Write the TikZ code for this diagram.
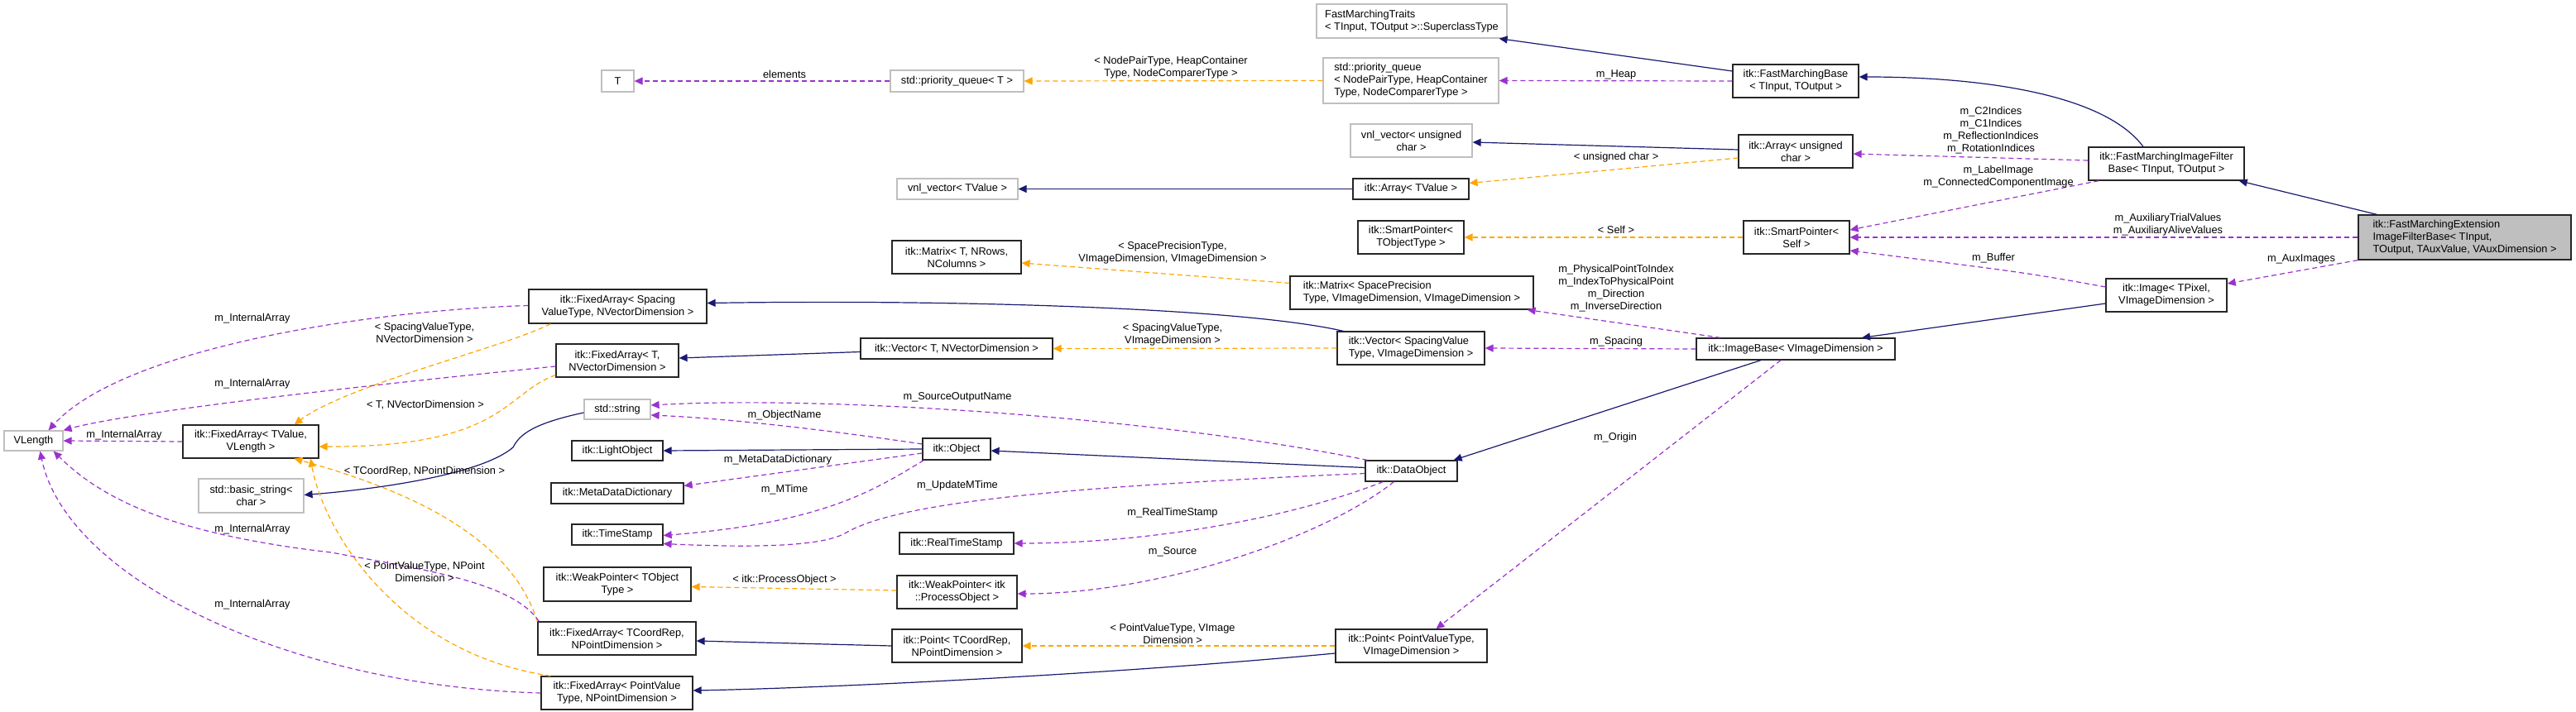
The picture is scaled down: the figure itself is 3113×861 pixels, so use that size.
\documentclass[tikz,border=0pt]{standalone}
\usepackage{fontspec}
\setmainfont{Liberation Sans}
\usetikzlibrary{arrows.meta,calc}
\definecolor{navy}{HTML}{191970}
\definecolor{orng}{HTML}{FFA500}
\definecolor{purp}{HTML}{9A32CD}
\definecolor{gbord}{HTML}{BFBFBF}
\newcommand\bx[7]{\node[#1, minimum width={(#5-#3)*0.5pt}, minimum height={(#6-#4)*0.5pt}] (#2) at ({(#3+#5)/2},{(#4+#6)/2}) {#7};}
\newcommand\lb[3]{\node[lbl] at (#1,#2) {#3};}
\begin{document}
\begin{tikzpicture}[x=0.5pt,y=-0.5pt,
  every node/.style={font=\fontsize{6.4}{7.5}\selectfont},
  box/.style={draw=black!85, line width=0.6pt, fill=white, inner sep=1pt, align=center},
  boxl/.style={box, align=left},
  gbox/.style={box, draw=gbord},
  gboxl/.style={gbox, align=left},
  extbox/.style={box, fill=black!25, align=left},
  lbl/.style={align=center, inner sep=0pt},
  inh/.style={draw=navy, line width=0.6pt, -{Triangle[length=5pt,width=4.5pt]}},
  tpl/.style={draw=orng, line width=0.6pt, dash pattern=on 3pt off 2pt, -{Triangle[length=5pt,width=4.5pt]}},
  use/.style={draw=purp, line width=0.6pt, dash pattern=on 3pt off 2pt, -{Triangle[length=5pt,width=4.5pt]}}]
\useasboundingbox (0,0) rectangle (3113,861);
% nodes
\bx{gboxl}{traits}{1591}{5}{1821}{46}{FastMarchingTraits\\< TInput, TOutput >::SuperclassType}
\bx{gboxl}{pqN}{1599}{70}{1811}{125}{std::priority\_queue\\< NodePairType, HeapContainer\\Type, NodeComparerType >}
\bx{box}{base}{2094}{78}{2246}{118}{itk::FastMarchingBase\\< TInput, TOutput >}
\bx{gbox}{vnlU}{1632}{150}{1779}{190}{vnl\_vector< unsigned\\char >}
\bx{box}{arrU}{2101}{163}{2239}{203}{itk::Array< unsigned\\char >}
\bx{box}{filt}{2524}{178}{2712}{218}{itk::FastMarchingImageFilter\\Base< TInput, TOutput >}
\bx{box}{arrT}{1635}{216}{1775}{241}{itk::Array< TValue >}
\bx{box}{spT}{1641}{267}{1769}{307}{itk::SmartPointer<\\TObjectType >}
\bx{box}{spS}{2107}{267}{2235}{307}{itk::SmartPointer<\\Self >}
\bx{extbox}{ext}{2850}{260}{3107}{314}{itk::FastMarchingExtension\\ImageFilterBase< TInput,\\ TOutput, TAuxValue, VAuxDimension >}
\bx{box}{img}{2545}{337}{2691}{377}{itk::Image< TPixel,\\VImageDimension >}
\bx{box}{imgBase}{2050}{409}{2290}{435}{itk::ImageBase< VImageDimension >}
\bx{boxl}{matS}{1559}{334}{1853}{374}{itk::Matrix< SpacePrecision\\Type, VImageDimension, VImageDimension >}
\bx{boxl}{vecS}{1616}{401}{1794}{441}{itk::Vector< SpacingValue\\Type, VImageDimension >}
\bx{box}{matT}{1078}{291}{1234}{331}{itk::Matrix< T, NRows,\\NColumns >}
\bx{box}{vecT}{1040}{409}{1272}{434}{itk::Vector< T, NVectorDimension >}
\bx{box}{obj}{1115}{530}{1197}{556}{itk::Object}
\bx{box}{dataObj}{1650}{557}{1761}{582}{itk::DataObject}
\bx{box}{rts}{1087}{644}{1225}{670}{itk::RealTimeStamp}
\bx{box}{wpP}{1084}{696}{1229}{736}{itk::WeakPointer< itk\\::ProcessObject >}
\bx{box}{ptC}{1078}{761}{1235}{801}{itk::Point< TCoordRep,\\NPointDimension >}
\bx{box}{ptP}{1614}{761}{1797}{801}{itk::Point< PointValueType,\\VImageDimension >}
\bx{gbox}{T}{727}{85}{766}{111}{T}
\bx{gbox}{pqT}{1076}{85}{1237}{111}{std::priority\_queue< T >}
\bx{gbox}{vnlT}{1084}{216}{1230}{241}{vnl\_vector< TValue >}
\bx{gbox}{vlen}{5}{521}{76}{545}{VLength}
\bx{box}{faV}{221}{514}{385}{554}{itk::FixedArray< TValue,\\VLength >}
\bx{gbox}{bstr}{240}{579}{367}{620}{std::basic\_string<\\char >}
\bx{box}{faS}{639}{350}{854}{391}{itk::FixedArray< Spacing\\ValueType, NVectorDimension >}
\bx{box}{faT}{672}{416}{820}{456}{itk::FixedArray< T,\\NVectorDimension >}
\bx{gbox}{str}{706}{483}{786}{507}{std::string}
\bx{box}{light}{691}{533}{801}{557}{itk::LightObject}
\bx{box}{meta}{666}{584}{826}{609}{itk::MetaDataDictionary}
\bx{box}{time}{691}{634}{801}{659}{itk::TimeStamp}
\bx{box}{wpT}{657}{686}{835}{727}{itk::WeakPointer< TObject\\Type >}
\bx{box}{faC}{650}{752}{841}{792}{itk::FixedArray< TCoordRep,\\NPointDimension >}
\bx{box}{faP}{654}{818}{837}{858}{itk::FixedArray< PointValue\\Type, NPointDimension >}
% inheritance
\draw[inh] ($(ext.north west)+(23,0)$) -- ($(filt.south east)+(-7,0)$);
\draw[inh] ($(filt.north)+(-28,0)$) .. controls (2540,110) and (2380,93) .. ($(base.east)+(0,-5)$);
\draw[inh] ($(base.west)+(0,-12)$) -- ($(traits.south east)+(-10,0)$);
\draw[inh] ($(arrU.west)+(0,-2)$) -- ($(vnlU.east)+(0,2)$);
\draw[inh] (arrT.west) -- (vnlT.east);
\draw[inh] ($(img.west)+(0,10)$) -- ($(imgBase.north)+(80,0)$);
\draw[inh] ($(imgBase.south)+(-42,0)$) -- ($(dataObj.north east)+(-5,0)$);
\draw[inh] ($(dataObj.west)+(0,-4)$) -- ($(obj.east)+(0,2)$);
\draw[inh] (obj.west) -- (light.east);
\draw[inh] ($(vecS.north west)+(8,0)$) .. controls (1500,372) and (1150,362) .. ($(faS.east)+(0,-4)$);
\draw[inh] ($(vecT.west)+(0,4)$) -- ($(faT.east)+(0,-3)$);
\draw[inh] (ptC.west) -- ($(faC.east)+(0,3)$);
\draw[inh] ($(ptP.west)+(0,9)$) .. controls (1350,815) and (1000,832) .. ($(faP.east)+(0,-3)$);
\draw[inh] ($(str.west)+(0,4)$) .. controls (645,512) and (628,525) .. (620,541) .. controls (580,575) and (450,592) .. ($(bstr.east)+(0,-1)$);
% templates
\draw[tpl] (pqN.west) -- (pqT.east);
\draw[tpl] ($(arrU.west)+(0,8)$) -- ($(arrT.east)+(0,-7)$);
\draw[tpl] (spS.west) -- (spT.east);
\draw[tpl] ($(matS.north west)+(0,9)$) -- ($(matT.east)+(0,7)$);
\draw[tpl] (vecS.west) -- (vecT.east);
\draw[tpl] (ptP.west) -- (ptC.east);
\draw[tpl] ($(wpP.west)+(0,-2)$) -- ($(wpT.east)+(0,3)$);
\draw[tpl] ($(faS.south west)+(27,0)$) .. controls (610,420) and (420,465) .. ($(faV.north east)+(-30,0)$);
\draw[tpl] ($(faT.south west)+(0,-3)$) .. controls (610,475) and (610,541) .. ($(faV.east)+(0,6)$);
\draw[tpl] (faC.north west) .. controls (620,660) and (520,600) .. ($(faV.south west)+(135,0)$);
\draw[tpl] ($(faP.north west)+(12,0)$) .. controls (480,790) and (390,640) .. ($(faV.south west)+(155,0)$);
% usage
\draw[use] (pqT.west) -- (T.east);
\draw[use] (base.west) -- (pqN.east);
\draw[use] ($(filt.west)+(0,-4)$) -- ($(arrU.east)+(0,3)$);
\draw[use] ($(filt.south west)+(13,0)$) -- ($(spS.east)+(0,-9)$);
\draw[use] (ext.west) -- (spS.east);
\draw[use] ($(img.west)+(0,-10)$) .. controls (2450,330) .. ($(spS.east)+(0,16)$);
\draw[use] (ext.south west) -- ($(img.east)+(0,-14)$);
\draw[use] ($(imgBase.north west)+(30,0)$) -- ($(matS.south east)+(-8,0)$);
\draw[use] (imgBase.west) -- (vecS.east);
\draw[use] ($(imgBase.south)+(-18,0)$) -- ($(ptP.north)+(30,0)$);
\draw[use] ($(dataObj.north west)+(3,0)$) .. controls (1400,505) and (1000,478) .. ($(str.east)+(0,-5)$);
\draw[use] ($(obj.west)+(0,-6)$) .. controls (1000,520) and (880,506) .. ($(str.east)+(0,7)$);
\draw[use] ($(obj.west)+(0,5)$) -- ($(meta.east)+(0,-9)$);
\draw[use] ($(obj.south west)+(2,0)$) .. controls (1060,590) and (1000,632) .. ($(time.east)+(0,1)$);
\draw[use] ($(dataObj.west)+(0,3)$) .. controls (1250,590) and (1080,610) .. (1021,645) .. controls (990,662) and (900,662) .. ($(time.east)+(0,11)$);
\draw[use] ($(dataObj.south west)+(22,0)$) .. controls (1550,630) and (1380,657) .. (rts.east);
\draw[use] ($(dataObj.south west)+(35,0)$) .. controls (1600,650) and (1400,718) .. ($(wpP.east)+(0,2)$);
\draw[use] ($(faS.west)+(0,-1)$) .. controls (450,375) and (150,420) .. ($(vlen.north)+(18,0)$);
\draw[use] ($(faT.west)+(0,7)$) .. controls (400,470) and (150,500) .. (vlen.north east);
\draw[use] (faV.west) -- (vlen.east);
\draw[use] ($(faC.north west)+(2,0)$) .. controls (620,705) and (520,690) .. (400,668) .. controls (200,645) and (120,600) .. ($(vlen.south east)+(-12,0)$);
\draw[use] (faP.west) .. controls (350,830) and (80,700) .. ($(vlen.south)+(8,0)$);
% labels
\lb{948}{90}{elements}
\lb{1415}{82}{< NodePairType, HeapContainer\\Type, NodeComparerType >}
\lb{1953}{90}{m\_Heap}
\lb{2406}{158}{m\_C2Indices\\m\_C1Indices\\m\_ReflectionIndices\\m\_RotationIndices}
\lb{1953}{190}{< unsigned char >}
\lb{2415}{214}{m\_LabelImage\\m\_ConnectedComponentImage}
\lb{1953}{278}{< Self >}
\lb{2620}{272}{m\_AuxiliaryTrialValues\\m\_AuxiliaryAliveValues}
\lb{2409}{312}{m\_Buffer}
\lb{2781}{313}{m\_AuxImages}
\lb{1953}{349}{m\_PhysicalPointToIndex\\m\_IndexToPhysicalPoint\\m\_Direction\\m\_InverseDirection}
\lb{1953}{413}{m\_Spacing}
\lb{1952}{529}{m\_Origin}
\lb{1417}{306}{< SpacePrecisionType,\\VImageDimension, VImageDimension >}
\lb{1417}{405}{< SpacingValueType,\\VImageDimension >}
\lb{1157}{480}{m\_SourceOutputName}
\lb{948}{502}{m\_ObjectName}
\lb{940}{556}{m\_MetaDataDictionary}
\lb{948}{592}{m\_MTime}
\lb{1157}{587}{m\_UpdateMTime}
\lb{1417}{620}{m\_RealTimeStamp}
\lb{1417}{667}{m\_Source}
\lb{948}{701}{< itk::ProcessObject >}
\lb{1417}{766}{< PointValueType, VImage\\Dimension >}
\lb{305}{385}{m\_InternalArray}
\lb{513}{402}{< SpacingValueType,\\NVectorDimension >}
\lb{305}{464}{m\_InternalArray}
\lb{514}{490}{< T, NVectorDimension >}
\lb{150}{526}{m\_InternalArray}
\lb{513}{570}{< TCoordRep, NPointDimension >}
\lb{305}{640}{m\_InternalArray}
\lb{513}{691}{< PointValueType, NPoint\\Dimension >}
\lb{305}{731}{m\_InternalArray}
\end{tikzpicture}
\end{document}
